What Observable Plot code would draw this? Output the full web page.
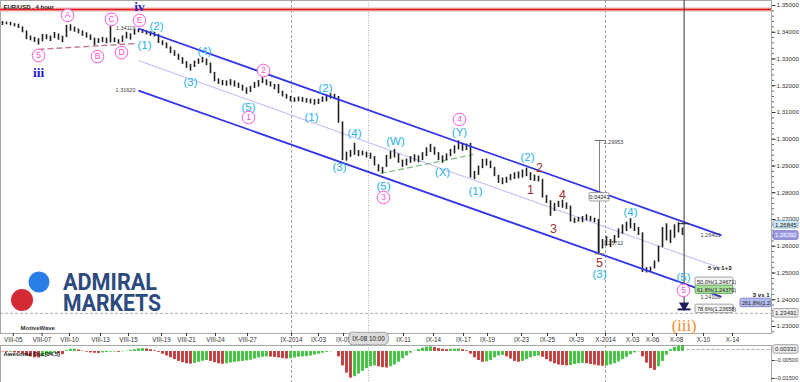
<!DOCTYPE html>
<html><head><meta charset="utf-8">
<script src="https://cdn.jsdelivr.net/npm/d3@7"></script>
<script src="https://cdn.jsdelivr.net/npm/@observablehq/plot@0.6"></script>
<style>
body{margin:0;background:#fff;font-family:"Liberation Sans",Arial,sans-serif;}
#wrap{position:relative;width:800px;height:382px;overflow:hidden;background:#fff;}
#main{position:absolute;left:0;top:0;}
#osc{position:absolute;left:0;top:345px;}
#logo{position:absolute;left:10px;top:270px;}
</style></head><body>
<div id="wrap"><div id="main"></div><div id="osc"></div>
<svg id="logo" width="170" height="48">
 <circle cx="29" cy="12" r="10.5" fill="#2a7fe6"/>
 <circle cx="12" cy="30" r="11" fill="#d42a35"/>
 <text x="53" y="20" font-family="Roboto, 'DejaVu Sans', sans-serif" font-weight="bold" font-size="23" fill="#2c4a7e" textLength="94" lengthAdjust="spacingAndGlyphs">ADMIRAL</text>
 <text x="53" y="40.5" font-family="Roboto, 'DejaVu Sans', sans-serif" font-weight="bold" font-size="23" fill="#2c4a7e" textLength="98" lengthAdjust="spacingAndGlyphs">MARKETS</text>
</svg>
</div>
<script>
// ---------- data ----------
const symbolTitle = "EUR/USD . 4 hour";
const tickLabels = ["VIII-05","VIII-07","VIII-10","VIII-13","VIII-15","VIII-19","VIII-21","VIII-24","VIII-27","IX-2014","IX-03","IX-05","IX-11","IX-14","IX-17","IX-19","IX-23","IX-25","IX-29","X-2014","X-03","X-06","X-08","X-10","X-14"];
const tickBars = [2.7,9.9,16.75,24.5,31.5,39.75,46,53.25,61.25,72.25,79,85.25,100.25,107.75,115.25,121.25,129.75,136.25,143.5,150.75,157.5,162.5,168.5,175.25,182.5];
const monthStarts = ["IX-2014","X-2014"];
const crosshairLabel = "IX-08 10:00";
const crosshairBar = 91.5;
const crosshairPrice = 1.23491;
const priceTicks = [1.23,1.24,1.25,1.26,1.27,1.28,1.29,1.30,1.31,1.32,1.33,1.34,1.35];
const resistanceLevel = 1.3485;

const barLow = [
 1.3425,1.3428,1.3424,1.3420,1.3414,1.3398,1.3372,1.3368,1.3362,1.3352,
 1.3364,1.3372,1.3365,1.3376,1.3370,1.3361,1.3380,1.3404,1.3400,1.3394,
 1.3385,1.3378,1.3369,1.3350,1.3358,1.3362,1.3357,1.3360,1.3361,1.3355,
 1.3362,1.3375,1.3371,1.3389,1.3398,1.3395,1.3390,1.3385,1.3382,1.3358,
 1.3350,1.3338,1.3320,1.3310,1.3295,1.3280,1.3265,1.3255,1.3268,1.3280,
 1.3285,1.3275,1.3245,1.3215,1.3205,1.3200,1.3198,1.3200,1.3195,1.3190,
 1.3180,1.3168,1.3175,1.3190,1.3195,1.3208,1.3200,1.3195,1.3185,1.3170,
 1.3158,1.3150,1.3140,1.3138,1.3140,1.3138,1.3135,1.3132,1.3127,1.3130,
 1.3138,1.3140,1.3150,1.3148,1.3060,1.2920,1.2918,1.2932,1.2940,1.2935,
 1.2938,1.2930,1.2925,1.2900,1.2878,1.2871,1.2895,1.2925,1.2930,1.2910,
 1.2895,1.2900,1.2910,1.2915,1.2912,1.2920,1.2935,1.2950,1.2940,1.2920,
 1.2910,1.2920,1.2935,1.2945,1.2960,1.2955,1.2958,1.2855,1.2849,1.2865,
 1.2890,1.2900,1.2890,1.2860,1.2835,1.2830,1.2835,1.2845,1.2850,1.2852,
 1.2855,1.2860,1.2845,1.2842,1.2840,1.2780,1.2760,1.2712,1.2730,1.2745,
 1.2742,1.2738,1.2690,1.2685,1.2690,1.2688,1.2695,1.2692,1.2688,1.2571,
 1.2590,1.2600,1.2595,1.2610,1.2630,1.2645,1.2655,1.2665,1.2655,1.2640,
 1.2502,1.2500,1.2505,1.2515,1.2540,1.2595,1.2620,1.2610,1.2630,1.2650,
 1.2640];
const barHigh = [
 1.3440,1.3438,1.3437,1.3432,1.3430,1.3420,1.3405,1.3386,1.3381,1.3376,
 1.3392,1.3391,1.3386,1.3399,1.3393,1.3385,1.3426,1.3428,1.3419,1.3412,
 1.3405,1.3398,1.3390,1.3378,1.3376,1.3381,1.3378,1.3421,1.3379,1.3372,
 1.3386,1.3400,1.3394,1.3410,1.3412,1.3410,1.3406,1.3402,1.3400,1.3392,
 1.3368,1.3360,1.3345,1.3331,1.3318,1.3305,1.3290,1.3280,1.3292,1.3300,
 1.3306,1.3300,1.3285,1.3250,1.3226,1.3220,1.3218,1.3223,1.3218,1.3210,
 1.3202,1.3192,1.3198,1.3212,1.3220,1.3230,1.3222,1.3215,1.3205,1.3205,
 1.3180,1.3168,1.3160,1.3155,1.3158,1.3156,1.3152,1.3150,1.3148,1.3150,
 1.3158,1.3165,1.3170,1.3168,1.3160,1.3065,1.2952,1.2958,1.2985,1.2958,
 1.2956,1.2952,1.2948,1.2935,1.2905,1.2895,1.2940,1.2955,1.2962,1.2945,
 1.2922,1.2926,1.2935,1.2942,1.2938,1.2950,1.2968,1.2981,1.2970,1.2950,
 1.2938,1.2945,1.2962,1.2975,1.2994,1.2985,1.2982,1.2985,1.2880,1.2900,
 1.2925,1.2926,1.2918,1.2895,1.2865,1.2855,1.2858,1.2868,1.2875,1.2878,
 1.2885,1.2892,1.2875,1.2866,1.2862,1.2850,1.2790,1.2770,1.2760,1.2768,
 1.2772,1.2762,1.2750,1.2705,1.2708,1.2711,1.2718,1.2712,1.2705,1.2700,
 1.2625,1.2636,1.2625,1.2640,1.2665,1.2680,1.2690,1.2703,1.2685,1.2670,
 1.2650,1.2520,1.2522,1.2545,1.2600,1.2670,1.2684,1.2660,1.2680,1.2688,
 1.2668];
const aoValues = [
 -0.0003,-0.0005,-0.0005,-0.0008,-0.0010,-0.0015,-0.0025,-0.0030,-0.0035,-0.0036,
 -0.0030,-0.0022,-0.0016,-0.0010,-0.0012,-0.0018,0.0005,0.0012,0.0013,0.0008,
 0.0002,-0.0004,-0.0008,-0.0010,-0.0011,-0.0008,-0.0006,-0.0004,-0.0003,-0.0005,
 -0.0002,0.0002,0.0006,0.0010,0.0014,0.0016,0.0014,0.0010,0.0004,-0.0005,
 -0.0015,-0.0025,-0.0035,-0.0045,-0.0055,-0.0062,-0.0068,-0.0070,-0.0066,-0.0060,
 -0.0054,-0.0050,-0.0055,-0.0062,-0.0068,-0.0071,-0.0068,-0.0064,-0.0060,-0.0058,
 -0.0055,-0.0052,-0.0048,-0.0042,-0.0036,-0.0032,-0.0030,-0.0031,-0.0033,-0.0036,
 -0.0040,-0.0042,-0.0040,-0.0036,-0.0032,-0.0030,-0.0028,-0.0025,-0.0020,-0.0015,
 -0.0010,-0.0005,-0.0002,0.0000,-0.0030,-0.0080,-0.0120,-0.0148,-0.0140,-0.0125,
 -0.0110,-0.0095,-0.0085,-0.0080,-0.0085,-0.0090,-0.0092,-0.0085,-0.0075,-0.0060,
 -0.0040,-0.0025,-0.0010,0.0002,0.0010,0.0018,0.0024,0.0026,0.0022,0.0016,
 0.0012,0.0010,0.0012,0.0013,0.0014,0.0010,0.0004,-0.0015,-0.0035,-0.0050,
 -0.0060,-0.0058,-0.0050,-0.0035,-0.0025,-0.0022,-0.0030,-0.0042,-0.0055,-0.0060,
 -0.0055,-0.0045,-0.0035,-0.0028,-0.0025,-0.0032,-0.0045,-0.0058,-0.0068,-0.0075,
 -0.0078,-0.0080,-0.0078,-0.0072,-0.0068,-0.0066,-0.0068,-0.0072,-0.0076,-0.0080,
 -0.0082,-0.0080,-0.0075,-0.0068,-0.0058,-0.0045,-0.0032,-0.0018,-0.0008,-0.0002,
 -0.0030,-0.0065,-0.0095,-0.0105,-0.0085,-0.0055,-0.0020,0.0010,0.0022,0.0030,
 0.0033];
const aoLast = 0.00331;
const oscTicks = [-0.005, -0.015];
const oscTitle = "Awesome Osc(34,5)";

// channel (bar, price)
const channelBars = [34, 179.75];
const upperChannel = [1.3414, 1.26405];
const middleChannel = [1.3294, 1.2517];
const lowerChannel = [1.3182, 1.24108];
const triangleBars = [9, 33.75];
const trianglePrices = [1.3336, 1.3358];
const wxyBars = [94.5, 117.75];
const wxyPrices = [1.2872, 1.2943];

// wave labels
const cyanText = ["(2)","(1)","(3)","(4)","(5)","(1)","(2)","(3)","(4)","(5)","(W)","(X)","(Y)","(1)","(2)","(3)","(4)","(5)"];
const cyanBar = [38.5,35.5,47,50.5,61.5,77.25,80.75,84.25,88,95.25,98.25,110,114.25,118.25,131.25,149.25,157,170.25];
const cyanPrice = [1.3422,1.3351,1.3212,1.3328,1.3119,1.3081,1.3190,1.2894,1.3022,1.2823,1.2992,1.2876,1.3025,1.2805,1.2932,1.2494,1.2726,1.2483];
const pinkText = ["5","A","B","C","D","E","1","2","3","4","5"];
const pinkBar = [9,16.25,23.75,27.25,29.75,34.25,61.5,65.25,95.25,114.25,170.25];
const pinkPrice = [1.3313,1.3463,1.3309,1.3448,1.3324,1.3444,1.3081,1.3257,1.2782,1.3074,1.2435];
const minorText = ["1","2","3","4","5"];
const minorBar = [132,134.25,137.75,140,149.25];
const minorPrice = [1.2812,1.2894,1.2666,1.2790,1.2539];
const romanText = ["iii","iv"];
const romanBar = [9,34.25];
const romanPrice = [1.3250,1.3496];
const targetText = "(iii)";
const targetPrice = 1.2304;

// measurements
const measureBar = 149.25, measureTop = 1.29953, measureLow = 1.25712, measureDiff = "0.04241";
const targetBar = 170.4, targetHigh = 1.26845, targetTip = 1.2379, targetEnd = 1.2364;
const fibText = ["50.0%(1.24671)","61.8%(1.24370)","78.6%(1.23658)","261.8%(1.23882)"];
const fibPrice = [1.24671,1.24370,1.23658,1.23882];
const fibBar = [173.25,173.25,173.25,184.5];
const groupText = ["5 vs 1+3","3 vs 1"];
const groupBar = [182.5,192];
const groupPrice = [1.2518,1.2419];
const priceNotes = ["1.34119","1.31620","1.26405","1.24108","1.29953","1.25712"];
const lastHigh = "1.26845", lastClose = "1.26392", lastCloseLevel = 1.2640;

// ---------- build ----------
const xMax = 192.25;
const font = "Liberation Sans, Arial, sans-serif";
const bars = barHigh.map((h, i) => ({bar: i, high: h, low: barLow[i]}));
const ao = aoValues.map((v, i) => ({bar: i, v, up: i === 0 ? v >= 0 : v >= aoValues[i - 1]}));
const monthBars = monthStarts.map(l => tickBars[tickLabels.indexOf(l)]);
const zip = (t, b, p) => t.map((d, i) => ({label: d, bar: b[i], p: p[i]}));
const cyan = zip(cyanText, cyanBar, cyanPrice);
const pink = zip(pinkText, pinkBar, pinkPrice);
const minor = zip(minorText, minorBar, minorPrice);
const roman = zip(romanText, romanBar, romanPrice);
const fibs = zip(fibText, fibBar, fibPrice);
const groups = zip(groupText, groupBar, groupPrice);
const lines = [
  {x1: channelBars[0], x2: channelBars[1], y1: upperChannel[0], y2: upperChannel[1]},
  {x1: channelBars[0], x2: channelBars[1], y1: lowerChannel[0], y2: lowerChannel[1]}
];

function box(data, {w, h = 8.5, lx = 0, fill, stroke, color = "#222", size = 5.5, dx = 1.5, dy = 0, anchor = "start", clip = false, weight = "normal"}) {
  return [
    Plot.rect(data, {x1: "bar", x2: "bar", y1: "p", y2: "p", insetLeft: lx, insetRight: -(lx + w),
      insetTop: -h / 2 + dy, insetBottom: -h / 2 - dy, fill, stroke, strokeWidth: 0.8, rx: 1.5, clip}),
    Plot.text(data, {x: "bar", y: "p", text: "label", dx, dy, textAnchor: anchor, fill: color, fontSize: size, clip, fontWeight: weight})
  ];
}

const main = Plot.plot({
  width: 800, height: 345, marginTop: 0, marginBottom: 12, marginLeft: 0, marginRight: 29,
  x: {domain: [-0.5, xMax], axis: null},
  y: {domain: [1.22738, 1.35187], axis: null},
  style: {fontFamily: font, fontSize: "6.5px", background: "#fff", color: "#333", overflow: "visible"},
  marks: [
    Plot.frame({stroke: "#a8a8a8"}),
    Plot.ruleX(monthBars, {stroke: "#8a8a8a", strokeDasharray: "3,2", strokeWidth: 0.8}),
    Plot.ruleX([crosshairBar], {stroke: "#b0b0b0", strokeDasharray: "1,1.5", strokeWidth: 1}),
    Plot.ruleY([crosshairPrice], {stroke: "#999", strokeDasharray: "3,2", strokeWidth: 0.8}),
    Plot.ruleY([resistanceLevel], {stroke: "#f4b0b0", strokeWidth: 4}),
    Plot.ruleY([resistanceLevel], {stroke: "#e01e1e", strokeWidth: 1.6}),
    Plot.link([{x1: channelBars[0], x2: channelBars[1], y1: middleChannel[0], y2: middleChannel[1]}],
      {x1: "x1", x2: "x2", y1: "y1", y2: "y2", stroke: "#b9b9f2", strokeWidth: 1}),
    Plot.link([{x1: triangleBars[0], x2: triangleBars[1], y1: trianglePrices[0], y2: trianglePrices[1]}],
      {x1: "x1", x2: "x2", y1: "y1", y2: "y2", stroke: "#c07a8c", strokeWidth: 1.4, strokeDasharray: "6,3"}),
    Plot.link([{x1: wxyBars[0], x2: wxyBars[1], y1: wxyPrices[0], y2: wxyPrices[1]}],
      {x1: "x1", x2: "x2", y1: "y1", y2: "y2", stroke: "#7cb87c", strokeWidth: 1.2, strokeDasharray: "6,3"}),
    Plot.ruleX(bars, {x: "bar", y1: "low", y2: "high", stroke: "#1e1e1e", strokeWidth: 1.6}),
    Plot.link(lines, {x1: "x1", x2: "x2", y1: "y1", y2: "y2", stroke: "#3434e6", strokeWidth: 1.8}),
    Plot.ruleX([measureBar], {y1: measureTop, y2: measureLow, stroke: "#666", strokeWidth: 0.8}),
    Plot.link([measureTop, measureLow], {x1: () => measureBar - 1.2, x2: () => measureBar + 1.2, y1: d => d, y2: d => d, stroke: "#666", strokeWidth: 0.9}),
    Plot.ruleX([targetBar], {y1: 1.35187, y2: targetEnd, stroke: "#333", strokeWidth: 1}),
    Plot.link([targetHigh], {x1: () => targetBar - 1.3, x2: () => targetBar + 1.3, y1: d => d, y2: d => d, stroke: "#333", strokeWidth: 1.2}),
    Plot.dot([targetTip], {x: () => targetBar, y: d => d, symbol: "triangle", rotate: 180, r: 3.8, fill: "#1b1b5e"}),
    Plot.link([targetEnd], {x1: () => targetBar - 1.6, x2: () => targetBar + 1.6, y1: d => d, y2: d => d, stroke: "#1b1b5e", strokeWidth: 2}),
    Plot.text([{bar: channelBars[0], p: upperChannel[0], label: priceNotes[0]}, {bar: channelBars[0], p: lowerChannel[0], label: priceNotes[1]}],
      {x: "bar", y: "p", text: "label", textAnchor: "end", dx: -3, fill: "#444", fontSize: 5.5}),
    Plot.text([{bar: 174.5, p: 1.26405, label: priceNotes[2]}, {bar: 174.5, p: 1.24108, label: priceNotes[3]}],
      {x: "bar", y: "p", text: "label", textAnchor: "start", fill: "#444", fontSize: 5.5}),
    Plot.text([{bar: measureBar, p: measureTop, label: priceNotes[4]}], {x: "bar", y: "p", text: "label", textAnchor: "start", dx: 4, dy: 2, fill: "#444", fontSize: 5.5}),
    Plot.text([{bar: measureBar, p: measureLow, label: priceNotes[5]}], {x: "bar", y: "p", text: "label", textAnchor: "start", dx: 4, dy: -11, fill: "#444", fontSize: 5.5}),
    ...box([{bar: measureBar, p: (measureTop + measureLow) / 2, label: measureDiff}], {w: 20, lx: -10, dx: 0, anchor: "middle", fill: "#fafafa", stroke: "#888"}),
    ...box(fibs.filter((d, i) => i === 0 || i === 2), {w: 38, fill: "#f6f6f6", stroke: "#8c8c8c"}),
    ...box(fibs.filter((d, i) => i === 1), {w: 38, fill: "#a9dd9c", stroke: "#5a9a50"}),
    ...box(fibs.filter((d, i) => i === 3), {w: 31, fill: "#b4bcee", stroke: "#6a74c4", clip: true}),
    Plot.text(groups, {x: "bar", y: "p", text: "label", textAnchor: "end", dx: -1, fontWeight: "bold", fontSize: 6, fill: "#111"}),
    Plot.text(cyan, {x: "bar", y: "p", text: "label", fill: "#2ab2ea", fontSize: 11.5}),
    Plot.dot(pink, {x: "bar", y: "p", r: 6.3, stroke: "#ff5ad8", fill: "white", strokeWidth: 1}),
    Plot.text(pink, {x: "bar", y: "p", text: "label", fill: "#ff4fd5", fontSize: 8.5}),
    Plot.text(minor, {x: "bar", y: "p", text: "label", fill: "#a23030", fontSize: 12.5}),
    Plot.text(roman, {x: "bar", y: "p", text: "label", fill: "#1d1dd4", fontSize: 13.5, fontWeight: "bold", fontFamily: "Liberation Serif, DejaVu Serif, serif"}),
    Plot.text([{bar: targetBar, p: targetPrice, label: targetText}], {x: "bar", y: "p", text: "label", fill: "#ff8a1c", fontSize: 16.5, fontFamily: "Liberation Serif, DejaVu Serif, serif"}),
    Plot.axisY({anchor: "right", ticks: d3.range(1.228, 1.3515, 0.002), tickSize: 2, tickFormat: () => "", stroke: "#666"}),
    Plot.axisY({anchor: "right", ticks: priceTicks, tickSize: 3.5, tickPadding: 1.5, tickFormat: d3.format(".5f"), fontSize: 6.2, fill: "#333"}),
    Plot.axisX({anchor: "bottom", ticks: tickBars, tickFormat: d => tickLabels[tickBars.indexOf(d)], tickSize: 3, tickPadding: 1, fontSize: 6.3, label: null, fill: "#333"}),
    Plot.text([{bar: crosshairBar, label: crosshairLabel}], {x: "bar", frameAnchor: "bottom", dy: 7, text: "label", stroke: "#8c8c8c", strokeWidth: 8.5, fill: "#8c8c8c", fontSize: 6.3, strokeLinejoin: "round"}),
    Plot.text([{bar: crosshairBar, label: crosshairLabel}], {x: "bar", frameAnchor: "bottom", dy: 7, text: "label", stroke: "#dcdcdc", strokeWidth: 7, fill: "#222", fontSize: 6.3, paintOrder: "stroke", strokeLinejoin: "round"}),
    ...box([{bar: xMax, p: targetHigh, label: lastHigh}], {w: 25, h: 7.5, lx: 2, dx: 3.5, dy: 1, fill: "#cfe8f3", stroke: "#6f9fc0", size: 6}),
    ...box([{bar: xMax, p: lastCloseLevel, label: lastClose}], {w: 25, lx: 2, dx: 3.5, fill: "#9d9de3", stroke: "#5e5eba", color: "#f4f4ff", size: 6}),
    ...box([{bar: xMax, p: crosshairPrice, label: String(crosshairPrice)}], {w: 25, lx: 2, dx: 3.5, fill: "#efefef", stroke: "#8a8a8a", size: 6}),
    Plot.text([symbolTitle], {frameAnchor: "top-left", dx: 3, dy: 4, fontWeight: "bold", fontSize: 6, fill: "#222", textAnchor: "start"}),
    Plot.text(["MotiveWave"], {frameAnchor: "bottom-left", dx: 20, dy: -4, fontWeight: "bold", fontSize: 6, fill: "#333", textAnchor: "start"})
  ]
});
document.getElementById("main").appendChild(main);

const osc = Plot.plot({
  width: 800, height: 37, marginTop: 0, marginBottom: 0, marginLeft: 0, marginRight: 29,
  x: {domain: [-0.5, xMax], axis: null},
  y: {domain: [-0.0172, 0.0033], axis: null},
  style: {fontFamily: font, fontSize: "6.5px", background: "#fff", color: "#333", overflow: "visible"},
  marks: [
    Plot.frame({stroke: "#a8a8a8"}),
    Plot.ruleX(monthBars, {stroke: "#8a8a8a", strokeDasharray: "3,2", strokeWidth: 0.8}),
    Plot.ruleX([crosshairBar], {stroke: "#b0b0b0", strokeDasharray: "1,1.5"}),
    Plot.ruleX(ao.filter(d => d.up), {x: "bar", y1: 0, y2: "v", stroke: "#3cc23c", strokeWidth: 2.8}),
    Plot.ruleX(ao.filter(d => !d.up), {x: "bar", y1: 0, y2: "v", stroke: "#c23838", strokeWidth: 2.8}),
    Plot.link([aoLast], {x1: () => ao.length, x2: () => xMax, y1: d => d, y2: d => d, dy: 4, stroke: "#999", strokeDasharray: "3,2", strokeWidth: 0.8}),
    Plot.axisY({anchor: "right", ticks: oscTicks, tickSize: 2.5, tickPadding: 0.5, tickFormat: d3.format(".5f"), fontSize: 5.6, fill: "#333"}),
    ...box([{bar: xMax, p: aoLast, label: aoLast.toFixed(5)}], {w: 25, lx: 2, dx: 3.5, dy: 4, fill: "#efefef", stroke: "#8a8a8a", size: 6}),
    Plot.text([oscTitle], {frameAnchor: "top-left", dx: 3, dy: 6, fontWeight: "bold", fontSize: 6, fill: "#222", textAnchor: "start"})
  ]
});
document.getElementById("osc").appendChild(osc);
</script>
</body></html>
